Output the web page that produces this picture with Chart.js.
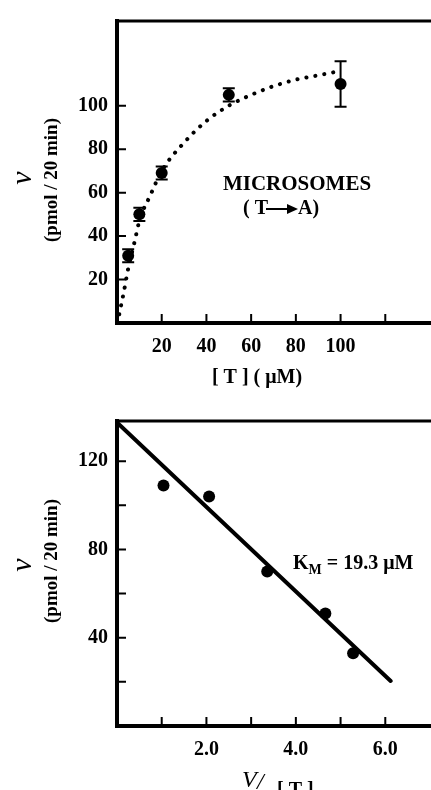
<!DOCTYPE html>
<html><head><meta charset="utf-8">
<script src="https://cdn.jsdelivr.net/npm/chart.js@4/dist/chart.umd.min.js"></script>
<style>
html,body{margin:0;padding:0;background:#fff;overflow:hidden;width:431px;height:790px}
canvas{position:absolute;left:0}
#c1{top:0}
#c2{top:400px}
</style></head><body>
<canvas id="c1" width="436" height="395"></canvas>
<canvas id="c2" width="436" height="390"></canvas>
<script>
// ---- top panel: v vs [T] ----
const concT   = [5, 10, 20, 50, 100];
const rateV   = [31, 50, 69, 105, 110];
const rateErr = [3, 3, 3, 3, 10.5];
const fitT = [1, 2, 3, 5, 8, 10, 15, 20, 30, 40, 50, 60, 70, 80, 90, 100];
const fitV = [4, 9, 14, 25, 38, 47, 59, 70, 83, 93, 100, 105, 109, 112, 114, 116];
const topXTicks  = [20, 40, 60, 80, 100, 120];
const topXLabels = [20, 40, 60, 80, 100];
const topYTicks  = [20, 40, 60, 80, 100];
const topYLabels = [20, 40, 60, 80, 100];

// ---- bottom panel: v vs v/[T] ----
const ratioVT = [1.04, 2.06, 3.36, 4.66, 5.28];
const rateB   = [109, 104, 70, 51, 33];
const lineX = [0, 6.12];
const lineY = [137.5, 20.4];
const botXTicks  = [1, 2, 3, 4, 5, 6];
const botXLabels = [2, 4, 6];
const botYTicks  = [20, 40, 60, 80, 100, 120];
const botYLabels = [40, 80, 120];

const SERIF = "'Liberation Serif','Times New Roman',serif";
Chart.defaults.font.family = SERIF;
Chart.defaults.color = '#000';

const framePlugin = {
  id: 'frame',
  afterDraw(chart, args, opts) {
    const ctx = chart.ctx, a = chart.chartArea;
    const xs = chart.scales.x, ys = chart.scales.y;
    ctx.save();
    ctx.strokeStyle = '#000';
    ctx.lineWidth = 3;
    ctx.beginPath();
    ctx.moveTo(a.left - 2, a.top);
    ctx.lineTo(chart.width, a.top);
    ctx.stroke();
    ctx.lineWidth = 2;
    ctx.beginPath();
    opts.xTicks.forEach(v => {
      const px = xs.getPixelForValue(v);
      ctx.moveTo(px, a.bottom);
      ctx.lineTo(px, a.bottom - 9);
    });
    opts.yTicks.forEach(v => {
      const py = ys.getPixelForValue(v);
      ctx.moveTo(a.left, py);
      ctx.lineTo(a.left + 9, py);
    });
    ctx.stroke();
    ctx.restore();
  }
};

function rotText(ctx, txt, x, y, font) {
  ctx.save();
  ctx.translate(x, y);
  ctx.rotate(-Math.PI / 2);
  ctx.font = font;
  ctx.textAlign = 'center';
  ctx.textBaseline = 'middle';
  ctx.fillText(txt, 0, 0);
  ctx.restore();
}

const errPlugin = {
  id: 'errbars',
  afterDatasetsDraw(chart) {
    const ctx = chart.ctx, xs = chart.scales.x, ys = chart.scales.y;
    ctx.save();
    ctx.strokeStyle = '#000';
    ctx.lineWidth = 2;
    concT.forEach((c, i) => {
      const px = xs.getPixelForValue(c);
      const y1 = ys.getPixelForValue(rateV[i] + rateErr[i]);
      const y2 = ys.getPixelForValue(rateV[i] - rateErr[i]);
      ctx.beginPath();
      ctx.moveTo(px, y1); ctx.lineTo(px, y2);
      ctx.moveTo(px - 6, y1); ctx.lineTo(px + 6, y1);
      ctx.moveTo(px - 6, y2); ctx.lineTo(px + 6, y2);
      ctx.stroke();
    });
    ctx.restore();
  }
};

const topText = {
  id: 'topText',
  afterDraw(chart) {
    const ctx = chart.ctx;
    ctx.save();
    ctx.fillStyle = '#000';
    rotText(ctx, 'v', 23, 178, "italic 30px " + SERIF);
    rotText(ctx, '(pmol / 20 min)', 52, 180, "bold 19px " + SERIF);
    ctx.font = "bold 20px " + SERIF;
    ctx.textAlign = 'center';
    ctx.textBaseline = 'middle';
    ctx.fillText('[ T ] ( \u03BCM)', 257, 378);
    ctx.font = "bold 21px " + SERIF;
    ctx.fillText('MICROSOMES', 297, 185);
    ctx.font = "bold 20px " + SERIF;
    ctx.textAlign = 'left';
    ctx.fillText('( T', 243, 209);
    ctx.fillText('A)', 298, 209);
    ctx.strokeStyle = '#000';
    ctx.lineWidth = 2;
    ctx.beginPath();
    ctx.moveTo(266, 209); ctx.lineTo(289, 209);
    ctx.stroke();
    ctx.beginPath();
    ctx.moveTo(287, 204); ctx.lineTo(298, 209); ctx.lineTo(287, 214);
    ctx.closePath(); ctx.fill();
    ctx.restore();
  }
};

const botText = {
  id: 'botText',
  afterDraw(chart) {
    const ctx = chart.ctx;
    ctx.save();
    ctx.fillStyle = '#000';
    rotText(ctx, 'v', 23, 165, "italic 30px " + SERIF);
    rotText(ctx, '(pmol / 20 min)', 52, 161, "bold 19px " + SERIF);
    ctx.textBaseline = 'alphabetic';
    ctx.textAlign = 'left';
    ctx.font = "bold 20px " + SERIF;
    ctx.fillText('K', 293, 169);
    const kw = ctx.measureText('K').width;
    ctx.font = "bold 14px " + SERIF;
    ctx.fillText('M', 293 + kw, 174);
    const mw = ctx.measureText('M').width;
    ctx.font = "bold 20px " + SERIF;
    ctx.fillText(' = 19.3 \u03BCM', 293 + kw + mw, 169);
    ctx.font = "italic 24px " + SERIF;
    ctx.fillText('V', 242, 387);
    ctx.fillText('/', 257, 389);
    ctx.font = "bold 20px " + SERIF;
    ctx.fillText('[ T ]', 277, 396);
    ctx.restore();
  }
};

function axes(xMin, xMax, yMin, yMax, xLabels, yLabels, xFmt, xH) {
  const tickFont = { family: SERIF, size: 20, weight: 'bold' };
  return {
    x: {
      type: 'linear', min: xMin, max: xMax,
      afterBuildTicks: s => { s.ticks = xLabels.map(v => ({ value: v })); },
      afterFit: s => { s.height = xH; },
      grid: { display: false, drawTicks: false },
      border: { display: true, width: 4, color: '#000' },
      ticks: { font: tickFont, color: '#000', padding: 12, maxRotation: 0, autoSkip: false,
               callback: v => xFmt(v) }
    },
    y: {
      type: 'linear', min: yMin, max: yMax,
      afterBuildTicks: s => { s.ticks = yLabels.map(v => ({ value: v })); },
      afterFit: s => { s.width = 117; },
      grid: { display: false, drawTicks: false },
      border: { display: true, width: 4, color: '#000' },
      ticks: { font: tickFont, color: '#000', padding: 9, autoSkip: false,
               callback: v => String(v) }
    }
  };
}

const common = {
  responsive: false,
  animation: false,
  devicePixelRatio: 1,
  layout: { padding: { left: 0, right: 2, top: 15, bottom: 0 } },
  plugins: { legend: { display: false }, tooltip: { enabled: false } }
};

new Chart(document.getElementById('c1'), {
  type: 'scatter',
  data: {
    datasets: [
      { type: 'line', data: fitT.map((t, i) => ({ x: t, y: fitV[i] })),
        borderColor: '#000', borderWidth: 4, borderDash: [0.1, 9], borderCapStyle: 'round',
        pointRadius: 0, tension: 0.4, cubicInterpolationMode: 'monotone', fill: false },
      { data: concT.map((t, i) => ({ x: t, y: rateV[i] })),
        backgroundColor: '#000', borderColor: '#000', pointRadius: 6, pointBorderWidth: 0 }
    ]
  },
  options: Object.assign({}, common, {
    scales: axes(0, 140, 0, 139, topXLabels, topYLabels, v => String(v), 72),
    plugins: Object.assign({}, common.plugins, { frame: { xTicks: topXTicks, yTicks: topYTicks } })
  }),
  plugins: [framePlugin, errPlugin, topText]
});

new Chart(document.getElementById('c2'), {
  type: 'scatter',
  data: {
    datasets: [
      { type: 'line', data: lineX.map((x, i) => ({ x: x, y: lineY[i] })),
        borderColor: '#000', borderWidth: 4, pointRadius: 0, fill: false, borderCapStyle: 'round' },
      { data: ratioVT.map((x, i) => ({ x: x, y: rateB[i] })),
        backgroundColor: '#000', borderColor: '#000', pointRadius: 6, pointBorderWidth: 0 }
    ]
  },
  options: Object.assign({}, common, {
    scales: axes(0, 7, 0, 138.2, botXLabels, botYLabels, v => Number(v).toFixed(1), 64),
    plugins: Object.assign({}, common.plugins, { frame: { xTicks: botXTicks, yTicks: botYTicks } })
  }),
  plugins: [framePlugin, botText]
});
</script>
</body></html>
